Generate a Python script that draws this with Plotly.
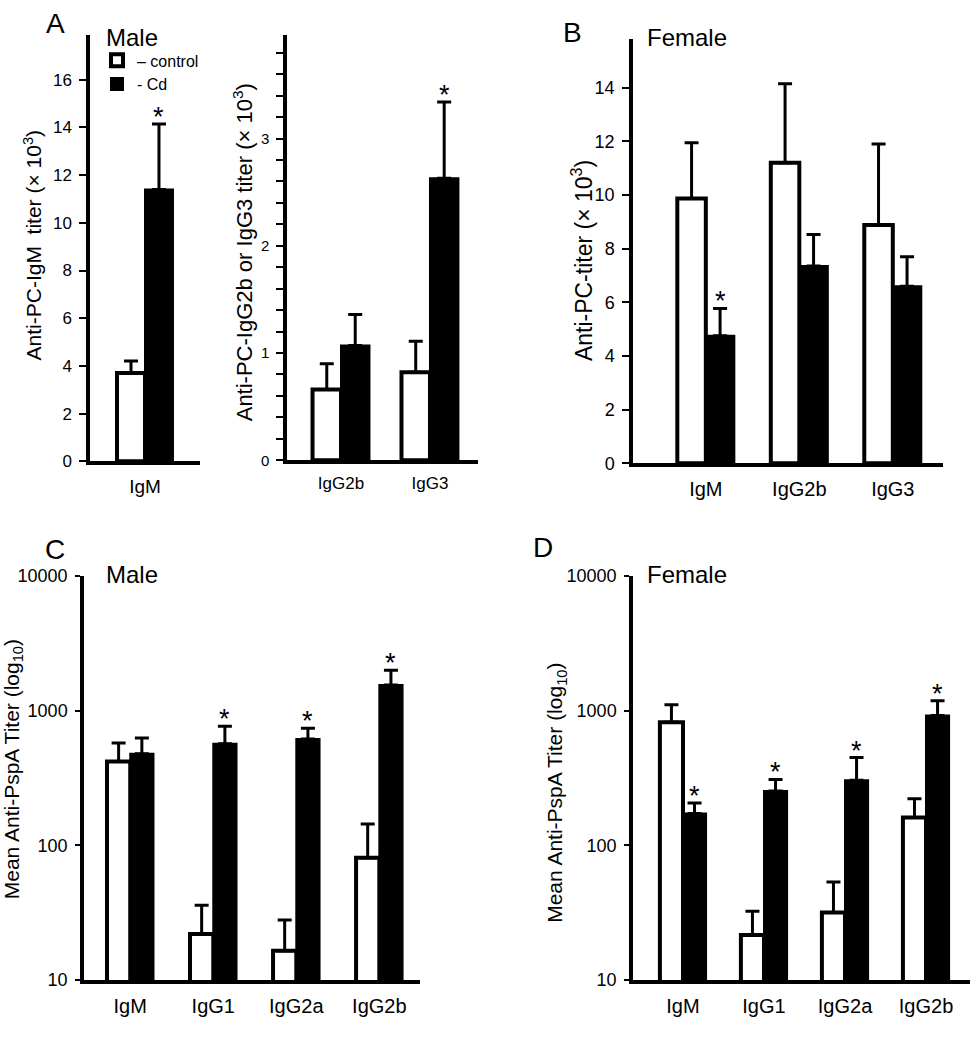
import numpy as np
import plotly.graph_objects as go

# ---- values (means and SEM) ----
# A, male, anti-PC IgM (x 10^3)
a_igm_cats = ["IgM"]
a_igm_ctrl = [3.7]
a_igm_ctrl_sem = [0.5]
a_igm_cd = [11.4]
a_igm_cd_sem = [2.75]
a_igm_star = [True]

# A, male, anti-PC IgG2b / IgG3 (x 10^3)
a_igg_cats = ["IgG2b", "IgG3"]
a_igg_ctrl = [0.66, 0.82]
a_igg_ctrl_sem = [0.24, 0.29]
a_igg_cd = [1.07, 2.63]
a_igg_cd_sem = [0.29, 0.71]
a_igg_star = [False, True]

# B, female, anti-PC titer (x 10^3)
b_cats = ["IgM", "IgG2b", "IgG3"]
b_ctrl = [9.87, 11.2, 8.88]
b_ctrl_sem = [2.08, 2.95, 3.02]
b_cd = [4.75, 7.35, 6.6]
b_cd_sem = [1.02, 1.18, 1.1]
b_star = [True, False, False]

# C, male, anti-PspA titer
c_cats = ["IgM", "IgG1", "IgG2a", "IgG2b"]
c_ctrl = [420, 22, 16.5, 81]
c_ctrl_sem = [156, 14, 11.5, 63]
c_cd = [480, 568, 617, 1550]
c_cd_sem = [148, 199, 125, 450]
c_star = [False, True, True, True]

# D, female, anti-PspA titer
d_cats = ["IgM", "IgG1", "IgG2a", "IgG2b"]
d_ctrl = [820, 21.6, 31.8, 161]
d_ctrl_sem = [289, 10.9, 21.7, 61]
d_cd = [173, 254, 305, 922]
d_cd_sem = [34, 55, 144, 264]
d_star = [True, True, True, True]

log_tickvals = [10, 100, 1000, 10000]
log_ticktext = ["10", "100", "1000", "10000"]

W, H = 971, 1050
FONT = "Liberation Sans, Arial, sans-serif"


def xdom(a, b):
    return [a / W, b / W]


def ydom(top, bottom):
    return [1 - bottom / H, 1 - top / H]


panels = [
    dict(cats=a_igm_cats, ctrl=a_igm_ctrl, ctrl_sem=a_igm_ctrl_sem, cd=a_igm_cd,
         cd_sem=a_igm_cd_sem, star=a_igm_star,
         xd=xdom(90, 200), yd=ydom(25, 460), xr=[-0.59, 0.59], yr=[0, 17.9],
         w=0.3, log=False, dtick=2, tick_size=17, cat_size=19),
    dict(cats=a_igg_cats, ctrl=a_igg_ctrl, ctrl_sem=a_igg_ctrl_sem, cd=a_igg_cd,
         cd_sem=a_igg_cd_sem, star=a_igg_star,
         xd=xdom(287, 478), yd=ydom(25, 459), xr=[-0.607, 1.54], yr=[0, 3.97],
         w=0.32, log=False, dtick=1, minor=0.2, tick_size=15, cat_size=17),
    dict(cats=b_cats, ctrl=b_ctrl, ctrl_sem=b_ctrl_sem, cd=b_cd,
         cd_sem=b_cd_sem, star=b_star,
         xd=xdom(633, 943), yd=ydom(30, 462), xr=[-0.779, 2.537], yr=[0, 15.8],
         w=0.305, log=False, dtick=2, tick_size=18, cat_size=20),
    dict(cats=c_cats, ctrl=c_ctrl, ctrl_sem=c_ctrl_sem, cd=c_cd,
         cd_sem=c_cd_sem, star=c_star,
         xd=xdom(84, 420), yd=ydom(577, 989), xr=[-0.557, 3.49], yr=[1, 4],
         w=0.28, log=True, tick_size=18, cat_size=20),
    dict(cats=d_cats, ctrl=d_ctrl, ctrl_sem=d_ctrl_sem, cd=d_cd,
         cd_sem=d_cd_sem, star=d_star,
         xd=xdom(633, 970), yd=ydom(577, 989), xr=[-0.617, 3.543], yr=[1, 4],
         w=0.285, log=True, tick_size=18, cat_size=20),
]

fig = go.Figure()
annotations = []

for k, p in enumerate(panels):
    sfx = "" if k == 0 else str(k + 1)
    xa, ya = "x" + sfx, "y" + sfx
    w = p["w"]
    err_style = dict(type="data", symmetric=False, color="black",
                     thickness=3, width=7)

    fig.add_trace(go.Bar(
        x=p["cats"], y=p["ctrl"], name="– control", legendgroup="ctrl",
        showlegend=(k == 0), offset=-w, width=w,
        marker=dict(color="white", line=dict(color="black", width=4)),
        error_y=dict(array=p["ctrl_sem"], arrayminus=[0] * len(p["cats"]), **err_style),
        xaxis=xa, yaxis=ya,
    ))
    fig.add_trace(go.Bar(
        x=p["cats"], y=p["cd"], name="- Cd", legendgroup="cd",
        showlegend=(k == 0), offset=0, width=w,
        marker=dict(color="black", line=dict(color="black", width=2)),
        error_y=dict(array=p["cd_sem"], arrayminus=[0] * len(p["cats"]), **err_style),
        xaxis=xa, yaxis=ya,
    ))

    # significance asterisks above the Cd error bars
    for i, (m, s, st) in enumerate(zip(p["cd"], p["cd_sem"], p["star"])):
        if not st:
            continue
        top = m + s
        annotations.append(dict(
            x=i + w / 2, y=np.log10(top) if p["log"] else top,
            xref=xa, yref=ya, text="*", showarrow=False,
            yanchor="bottom", yshift=-10, font=dict(size=27, color="black", family=FONT),
        ))

    xaxis = dict(domain=p["xd"], anchor=ya, range=p["xr"], type="category",
                 showline=True, linewidth=3.5, linecolor="black", ticks="",
                 showgrid=False, zeroline=False, ticklabelstandoff=5,
                 tickfont=dict(size=p["cat_size"], color="black", family=FONT))
    yaxis = dict(domain=p["yd"], anchor=xa, range=p["yr"],
                 showline=True, linewidth=3.5, linecolor="black",
                 ticks="outside", ticklen=7, tickwidth=2, tickcolor="black",
                 showgrid=False, zeroline=False, ticklabelstandoff=4,
                 tickfont=dict(size=p["tick_size"], color="black", family=FONT))
    if p["log"]:
        yaxis.update(type="log", tickvals=log_tickvals, ticktext=log_ticktext, ticklen=5)
    else:
        yaxis.update(tick0=0, dtick=p["dtick"])
        if p.get("minor"):
            yaxis["minor"] = dict(dtick=p["minor"], ticks="outside", ticklen=7,
                                  tickwidth=2, tickcolor="black", showgrid=False)
    fig.update_layout(**{"xaxis" + sfx: xaxis, "yaxis" + sfx: yaxis})


def txt(x, y, s, size, angle=0, xanchor="center"):
    annotations.append(dict(
        x=x / W, y=1 - y / H, xref="paper", yref="paper", text=s, showarrow=False,
        textangle=angle, xanchor=xanchor, yanchor="middle",
        font=dict(size=size, color="black", family=FONT),
    ))


# panel letters and group labels
txt(55, 14, "A", 28)
txt(572, 23, "B", 28)
txt(55, 550, "C", 28)
txt(543, 548, "D", 28)
txt(104, 28, "Male", 24, xanchor="left")
txt(645, 28, "Female", 24, xanchor="left")
txt(104, 575, "Male", 24, xanchor="left")
txt(645, 575, "Female", 24, xanchor="left")

# y-axis titles
txt(33, 240, "Anti-PC-IgM  titer (× 10<sup>3</sup>)", 21, angle=-90)
txt(243, 247, "Anti-PC-IgG2b or IgG3 titer (× 10<sup>3</sup>)", 22, angle=-90)
txt(582, 256, "Anti-PC-titer (× 10<sup>3</sup>)", 23, angle=-90)
txt(13, 774, "Mean Anti-PspA Titer (log<sub>10</sub>)", 21, angle=-90)
txt(556, 798, "Mean Anti-PspA Titer (log<sub>10</sub>)", 21, angle=-90)

fig.update_layout(
    width=W, height=H,
    margin=dict(l=0, r=0, t=0, b=0),
    paper_bgcolor="white", plot_bgcolor="white",
    barmode="group",
    font=dict(family=FONT, color="black"),
    annotations=annotations,
    legend=dict(x=97 / W, y=1 - 34 / H, xanchor="left", yanchor="top",
                bgcolor="rgba(0,0,0,0)", font=dict(size=16, family=FONT),
                tracegroupgap=0, itemwidth=30),
)

# drop the browser's default 8px body margin so the figure sits at the page origin
fig.write_html("out.html", config={"displayModeBar": False},
               post_script="document.body.style.margin='0';")
